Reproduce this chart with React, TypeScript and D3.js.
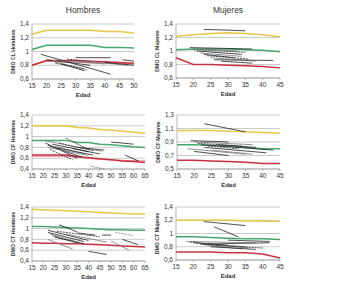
import React from "react";
import * as d3 from "d3";

// ---------- DATA ----------
const agesShort = [15, 20, 25, 30, 35, 40, 45];
const agesTop = [15, 20, 25, 30, 35, 40, 45, 50];
const agesLong = [15, 20, 25, 30, 35, 40, 45, 50, 55, 60, 65];

const yTicks14 = [0.6, 0.8, 1.0, 1.2, 1.4];
const yTicks14b = [0.4, 0.6, 0.8, 1.0, 1.2, 1.4];
const yTicks13 = [0.5, 0.7, 0.9, 1.1, 1.3];

const colTitles = ["Hombres", "Mujeres"];
const yLabels = [
  "DMO CL Hombres",
  "DMO CL Mujeres",
  "DMO CF Hombres",
  "DMO CF Mujeres",
  "DMO CT Hombres",
  "DMO CT Mujeres",
];

// CL Hombres
const clH_yellow = [1.25, 1.31, 1.31, 1.31, 1.31, 1.29, 1.29, 1.27];
const clH_green = [1.03, 1.09, 1.09, 1.09, 1.09, 1.06, 1.06, 1.05];
const clH_red = [0.8, 0.87, 0.87, 0.87, 0.86, 0.85, 0.84, 0.83];
const clH_pink = [0.8, 0.86, 0.85, 0.85, 0.84, 0.84, 0.83, 0.82];
const clH_seg = [
  [18, 0.96, 42, 0.67],
  [20, 0.88, 35, 0.8],
  [22, 0.86, 34, 0.73],
  [23, 0.83, 33, 0.75],
  [25, 0.82, 33, 0.72],
  [22, 0.87, 40, 0.82],
  [30, 0.91, 42, 0.91],
  [27, 0.89, 36, 0.85],
  [35, 0.85, 48, 0.8],
  [46, 0.88, 50, 0.86],
  [40, 0.84, 50, 0.8],
];

// CL Mujeres
const clM_yellow = [1.22, 1.24, 1.26, 1.27, 1.26, 1.24, 1.21];
const clM_green = [1.02, 1.03, 1.03, 1.03, 1.02, 1.01, 0.99];
const clM_red = [0.9, 0.8, 0.8, 0.79, 0.78, 0.77, 0.75];
const clM_seg = [
  [23, 1.32, 35, 1.3],
  [19, 1.05, 37, 1.03],
  [22, 1.03, 33, 1.0],
  [20, 1.02, 35, 0.98],
  [21, 1.0, 34, 0.95],
  [22, 0.97, 34, 0.92],
  [23, 0.95, 32, 0.9],
  [24, 0.93, 36, 0.88],
  [25, 0.9, 38, 0.85],
  [26, 0.87, 43, 0.86],
  [28, 0.85, 37, 0.82],
];

// CF Hombres
const cfH_yellow = [1.2, 1.2, 1.2, 1.2, 1.17, 1.16, 1.13, 1.12, 1.1, 1.08, 1.06];
const cfH_green = [0.93, 0.93, 0.93, 0.93, 0.89, 0.89, 0.86, 0.85, 0.83, 0.81, 0.8];
const cfH_red = [0.66, 0.66, 0.66, 0.66, 0.63, 0.61, 0.59, 0.57, 0.55, 0.54, 0.52];
const cfH_pink = [0.64, 0.64, 0.64, 0.64, 0.62, 0.6, 0.58, 0.57, 0.56, 0.55, 0.55];
const cfH_seg = [
  [21, 0.88, 35, 0.6],
  [22, 0.84, 37, 0.62],
  [22, 0.8, 40, 0.65],
  [23, 0.76, 33, 0.57],
  [24, 0.86, 40, 0.72],
  [25, 0.82, 38, 0.68],
  [26, 0.79, 42, 0.66],
  [30, 0.97, 40, 0.76],
  [30, 0.84, 46, 0.73],
  [33, 0.78, 45, 0.68],
  [35, 0.8, 47, 0.75],
  [41, 0.45, 47, 0.4],
  [50, 0.9, 60, 0.86],
  [56, 0.66, 62, 0.55],
  [20, 0.93, 30, 0.85],
  [27, 0.88, 42, 0.74],
];

// CF Mujeres
const cfM_yellow = [1.07, 1.07, 1.07, 1.06, 1.05, 1.04, 1.03];
const cfM_green = [0.86, 0.86, 0.85, 0.84, 0.82, 0.8, 0.8];
const cfM_red = [0.63, 0.63, 0.62, 0.61, 0.6, 0.58, 0.58];
const cfM_seg = [
  [23, 1.17, 35, 1.05],
  [19, 0.92, 30, 0.9],
  [20, 0.9, 37, 0.86],
  [21, 0.88, 34, 0.84],
  [22, 0.86, 43, 0.78],
  [18, 0.8, 35, 0.72],
  [23, 0.82, 41, 0.74],
  [24, 0.84, 33, 0.8],
  [25, 0.78, 37, 0.72],
  [27, 0.86, 38, 0.82],
  [20, 0.76, 30, 0.7],
];

// CT Hombres
const ctH_yellow = [1.36, 1.35, 1.34, 1.33, 1.32, 1.31, 1.3, 1.29, 1.28, 1.27, 1.27];
const ctH_green = [1.04, 1.04, 1.03, 1.02, 1.01, 1.0, 0.99, 0.98, 0.98, 0.97, 0.97];
const ctH_red = [0.74, 0.73, 0.73, 0.72, 0.72, 0.71, 0.7, 0.69, 0.68, 0.67, 0.66];
const ctH_seg = [
  [22, 0.97, 40, 0.78],
  [22, 0.93, 38, 0.76],
  [23, 0.9, 36, 0.74],
  [24, 0.87, 35, 0.73],
  [25, 0.84, 38, 0.72],
  [22, 0.8, 33, 0.62],
  [27, 1.07, 35, 0.94],
  [26, 0.95, 45, 0.85],
  [30, 0.9, 48, 0.75],
  [40, 0.58, 48, 0.52],
  [46, 0.88, 50, 0.88],
  [52, 0.93, 60, 0.87],
  [55, 0.8, 62, 0.7],
  [35, 0.92, 43, 0.88],
  [50, 0.77, 58, 0.6],
];

// CT Mujeres
const ctM_yellow = [1.2, 1.2, 1.2, 1.2, 1.19, 1.19, 1.18];
const ctM_green = [0.95, 0.95, 0.94, 0.93, 0.92, 0.92, 0.91];
const ctM_red = [0.72, 0.72, 0.72, 0.71, 0.71, 0.69, 0.63];
const ctM_seg = [
  [23, 1.18, 35, 1.12],
  [26, 1.1, 33, 0.95],
  [18, 0.88, 38, 0.86],
  [19, 0.87, 35, 0.8],
  [20, 0.86, 30, 0.82],
  [21, 0.85, 36, 0.78],
  [22, 0.84, 42, 0.86],
  [23, 0.83, 40, 0.78],
  [24, 0.82, 34, 0.77],
  [25, 0.8, 38, 0.76],
  [30, 0.9, 42, 0.88],
];

// ---------- LAYOUT ----------
const W = 342;
const H = 299;

type Panel = {
  x0: number; x1: number; yT: number; yB: number;
  ages: number[]; yt: number[];
  yellow: number[]; green: number[]; red: number[]; pink?: number[];
  seg: number[][]; label: string; title?: string;
};

const panels: Panel[] = [
  { x0: 32, x1: 134, yT: 24, yB: 79, ages: agesTop, yt: yTicks14, yellow: clH_yellow, green: clH_green, red: clH_red, pink: clH_pink, seg: clH_seg, label: yLabels[0], title: colTitles[0] },
  { x0: 176, x1: 280, yT: 24, yB: 78, ages: agesShort, yt: yTicks14, yellow: clM_yellow, green: clM_green, red: clM_red, seg: clM_seg, label: yLabels[1], title: colTitles[1] },
  { x0: 32, x1: 145, yT: 115, yB: 169, ages: agesLong, yt: yTicks14b, yellow: cfH_yellow, green: cfH_green, red: cfH_red, pink: cfH_pink, seg: cfH_seg, label: yLabels[2] },
  { x0: 177, x1: 280, yT: 115, yB: 169, ages: agesShort, yt: yTicks13, yellow: cfM_yellow, green: cfM_green, red: cfM_red, seg: cfM_seg, label: yLabels[3] },
  { x0: 32, x1: 145, yT: 207, yB: 261, ages: agesLong, yt: yTicks14b, yellow: ctH_yellow, green: ctH_green, red: ctH_red, seg: ctH_seg, label: yLabels[4] },
  { x0: 176, x1: 280, yT: 207, yB: 260, ages: agesShort, yt: yTicks14, yellow: ctM_yellow, green: ctM_green, red: ctM_red, seg: ctM_seg, label: yLabels[5] },
];

const FONT = "'Liberation Sans', Arial, sans-serif";
const fmt = (v: number) => {
  const r = Math.round(v * 10) / 10;
  return Number.isInteger(r) ? String(r) : r.toFixed(1).replace(".", ",");
};

function PanelView({ p }: { p: Panel }) {
  const x = d3.scaleLinear().domain([p.ages[0], p.ages[p.ages.length - 1]]).range([p.x0, p.x1]);
  const y = d3.scaleLinear().domain([p.yt[0], p.yt[p.yt.length - 1]]).range([p.yB, p.yT]);
  const line = d3.line<number>().x((_, i) => x(p.ages[i])).y((v) => y(v));
  const midX = (p.x0 + p.x1) / 2;
  const midY = (p.yT + p.yB) / 2;
  return (
    <g>
      {p.title && (
        <text x={midX} y={p.yT - 11} textAnchor="middle" fontSize={8.5} fill="#333" fontFamily={FONT}>
          {p.title}
        </text>
      )}
      {p.yt.map((t) => (
        <line key={"g" + t} x1={p.x0} x2={p.x1} y1={y(t)} y2={y(t)} stroke="#c4c4c4" strokeWidth={0.9} />
      ))}
      <line x1={p.x0} x2={p.x0} y1={p.yT} y2={p.yB} stroke="#a0a0a0" strokeWidth={0.8} />
      <line x1={p.x0} x2={p.x1} y1={p.yB} y2={p.yB} stroke="#a0a0a0" strokeWidth={0.8} />
      {p.ages.map((a) => (
        <g key={"x" + a}>
          <line x1={x(a)} x2={x(a)} y1={p.yB} y2={p.yB + 2} stroke="#a0a0a0" strokeWidth={0.8} />
          <text x={x(a)} y={p.yB + 9} textAnchor="middle" fontSize={6.5} fill="#333" fontFamily={FONT}>
            {a}
          </text>
        </g>
      ))}
      {p.yt.map((t) => (
        <text key={"y" + t} x={p.x0 - 3} y={y(t) + 2.2} textAnchor="end" fontSize={6.5} fill="#333" fontFamily={FONT}>
          {fmt(t)}
        </text>
      ))}
      <text x={midX} y={p.yB + 18} textAnchor="middle" fontSize={6} fontWeight="bold" fill="#333" fontFamily={FONT}>
        Edad
      </text>
      <text
        transform={`translate(${p.x0 - 17},${midY}) rotate(-90)`}
        textAnchor="middle"
        fontSize={5.2}
        fontWeight="bold"
        fill="#333"
        fontFamily={FONT}
      >
        {p.label}
      </text>
      <path d={line(p.yellow) || ""} fill="none" stroke="#e9c545" strokeWidth={1.5} />
      <path d={line(p.green) || ""} fill="none" stroke="#45a86c" strokeWidth={1.5} />
      {p.pink && <path d={line(p.pink) || ""} fill="none" stroke="#e58a96" strokeWidth={1.3} />}
      <path d={line(p.red) || ""} fill="none" stroke="#c8323f" strokeWidth={1.5} />
      {p.seg.map((s, i) => (
        <line
          key={"s" + i}
          x1={x(s[0])}
          y1={y(s[1])}
          x2={x(s[2])}
          y2={y(s[3])}
          stroke={i % 3 === 2 ? "#777" : "#222"}
          strokeWidth={0.8}
          strokeDasharray={i % 4 === 3 ? "2,1" : undefined}
        />
      ))}
    </g>
  );
}

export default function App() {
  return (
    <svg width={W} height={H} style={{ position: "absolute", left: 0, top: 0, background: "#fff" }}>
      {panels.map((p, i) => (
        <PanelView key={i} p={p} />
      ))}
    </svg>
  );
}
